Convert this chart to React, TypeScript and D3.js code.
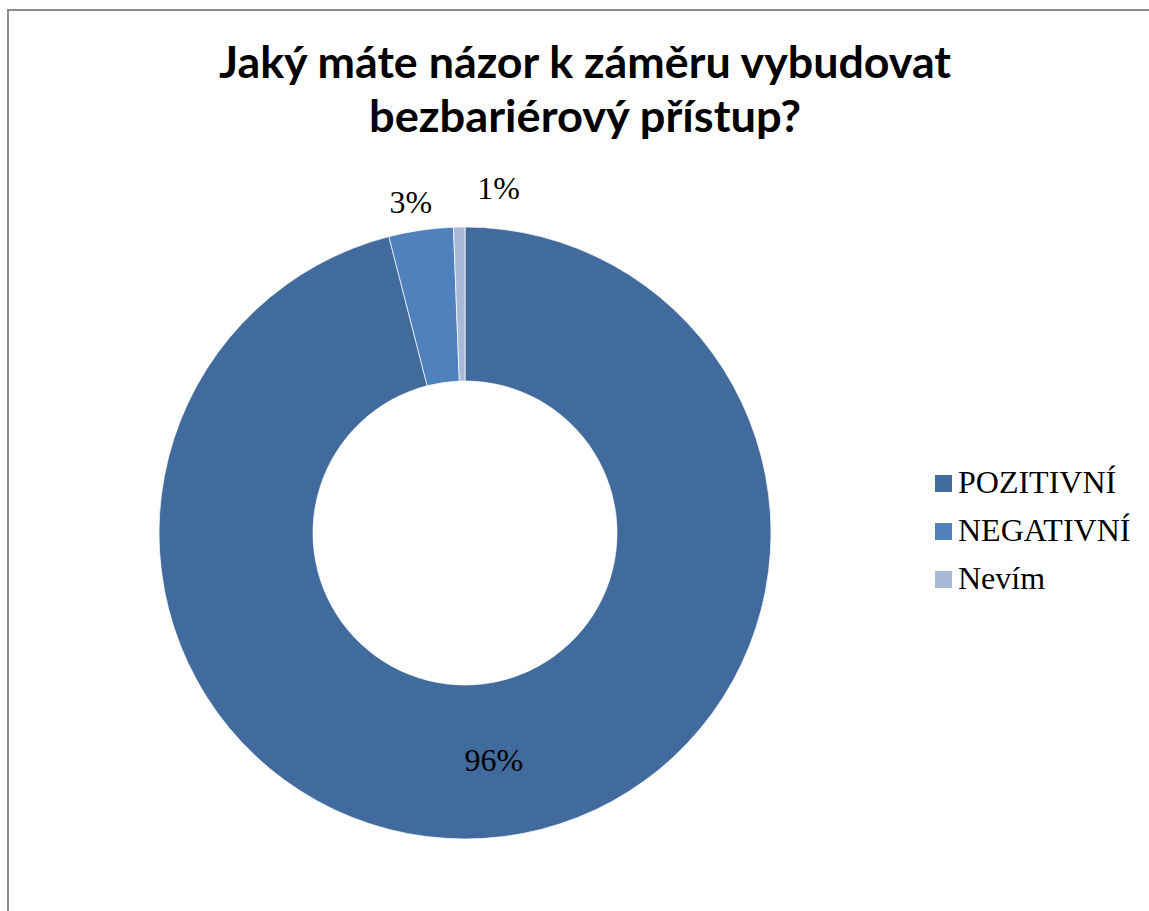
import { useEffect, useRef } from 'react';
import * as d3 from 'd3';

const W = 1149, H = 911;
const TITLE = ['Jaký máte názor k záměru vybudovat', 'bezbariérový přístup?'];
const CATS = ['POZITIVNÍ', 'NEGATIVNÍ', 'Nevím'];
const VALS = [96.0, 3.4, 0.6];
const COLORS = ['#416a9d', '#4f81bd', '#a9bad8'];

export default function App() {
  const ref = useRef<SVGSVGElement>(null);
  useEffect(() => {
    const svg = d3.select(ref.current); svg.selectAll('*').remove();
    svg.attr('width', W).attr('height', H);
    svg.append('rect').attr('width', W).attr('height', H).attr('fill', '#fff');
    // chart frame, runs off the right and bottom edges
    svg.append('rect').attr('x', 8).attr('y', 10).attr('width', W + 20).attr('height', H + 20)
      .attr('fill', 'none').attr('stroke', '#8c8c8c').attr('stroke-width', 2);

    const tcx = 585;
    const tw = [732, 432];
    TITLE.forEach((t, i) => svg.append('text').attr('x', tcx).attr('y', 78 + i * 54)
      .attr('text-anchor', 'middle').attr('font-family', 'Lato, "Open Sans", sans-serif')
      .attr('font-weight', 700).attr('font-size', 44)
      .attr('textLength', tw[i]).attr('lengthAdjust', 'spacingAndGlyphs').text(t));

    const cx = 465, cy = 533, ro = 306, ri = 152;
    const data = CATS.map((c, i) => ({ c, v: VALS[i], col: COLORS[i] }));
    const total = d3.sum(VALS);
    const pie = d3.pie<any>().value(d => d.v).sort(null);
    const arc = d3.arc<any>().innerRadius(ri).outerRadius(ro);
    const g = svg.append('g').attr('transform', `translate(${cx},${cy})`);
    const arcs = pie(data);
    g.selectAll('path').data(arcs).join('path').attr('d', arc)
      .attr('fill', d => d.data.col).attr('stroke', '#fff').attr('stroke-width', 0.7);

    const mid = d3.arc<any>().innerRadius((ri + ro) / 2).outerRadius((ri + ro) / 2);
    const out = d3.arc<any>().innerRadius(335).outerRadius(335);
    const fmt = (v: number) => `${Math.round(v / total * 100)}%`;
    arcs.forEach((d, i) => {
      const big = d.endAngle - d.startAngle > 1;
      let [x, y] = big ? mid.centroid(d) : out.centroid(d);
      if (!big && i === arcs.length - 1) { x += 40; y -= 10; } // nudge last small label off its neighbour
      if (!big && i !== arcs.length - 1) { x -= 6; }
      g.append('text').attr('x', x).attr('y', y + 11).attr('text-anchor', 'middle')
        .attr('font-family', '"Liberation Serif", "Times New Roman", serif').attr('font-size', 32)
        .attr('fill', '#000').text(fmt(d.data.v));
    });

    const lg = svg.append('g').attr('transform', 'translate(935,475)');
    data.forEach((d, i) => {
      lg.append('rect').attr('x', 0).attr('y', i * 48).attr('width', 17).attr('height', 17).attr('fill', d.col);
      lg.append('text').attr('x', 23).attr('y', i * 48 + 18)
        .attr('font-family', '"Liberation Serif", "Times New Roman", serif').attr('font-size', 32)
        .attr('fill', '#000').text(d.c);
    });
  }, []);
  return <svg ref={ref} style={{ position: 'absolute', left: 0, top: 0 }} />;
}
